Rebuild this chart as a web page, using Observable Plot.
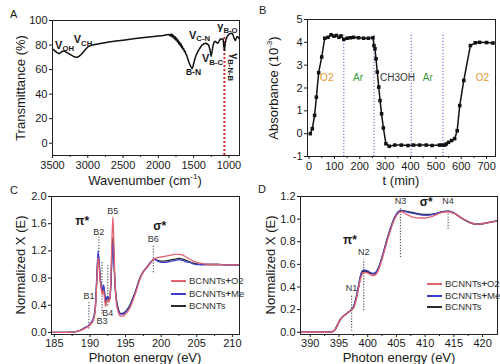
<!DOCTYPE html>
<html><head><meta charset="utf-8">
<script src="https://cdn.jsdelivr.net/npm/d3@7"></script>
<script src="https://cdn.jsdelivr.net/npm/@observablehq/plot@0.6"></script>
<style>
body{margin:0;background:#fff;}
#root{position:relative;width:500px;height:364px;overflow:hidden;font-family:"Liberation Sans",Arial,sans-serif;color:#1a1a1a}
.ttl{position:absolute;font-size:13px;white-space:nowrap;transform:translate(-50%,-50%)}
.ttl.rot{transform:translate(-50%,-50%) rotate(-90deg)}
.plab{position:absolute;font-size:11px}
.leg{position:absolute;font-size:9.5px;color:#333;white-space:nowrap}
.leg i{display:inline-block;width:15px;height:0;border-top:2px solid;vertical-align:middle;margin-right:3px}
</style></head>
<body><div id="root"></div>
<script>
// ---------- Panel A: FTIR ----------
const wnA = [3500,3470,3440,3410,3390,3360,3330,3300,3270,3240,3210,3180,3150,3120,3090,3060,3030,3000,2960,2900,2800,2700,2600,2500,2400,2300,2200,2100,2000,1930,1880,1850,1830,1820,1810,1800,1790,1780,1770,1760,1750,1740,1730,1720,1710,1700,1690,1680,1670,1660,1650,1640,1630,1620,1610,1600,1590,1575,1560,1545,1530,1520,1510,1495,1475,1455,1430,1405,1380,1355,1333,1310,1286,1268,1252,1238,1224,1208,1191,1175,1158,1140,1120,1100,1082,1072,1064,1056,1045,1025,1003,980,955,943,932,920,908,896,884,870,860,851];
const trA = [77,75.5,74,73,73.5,75,75,74,73,72,71,70.3,70,71,72.5,74.5,76.5,78.5,79.7,80.5,81.5,82.5,83.3,84,84.8,85.5,86.2,86.8,87.3,87.7,88.3,88.6,87.5,89,87,88.5,86,87.5,85,86.5,84,85.5,82.5,84,81,82.5,79.5,81,78,79,76.5,77,74.5,75,72.5,72,70,67.5,65,63,61.5,61,62.5,66,70,73,75.6,78,80,81,81.5,81,80,76,71,75,80,82.5,83,82,81.5,83,85,85,84.5,79,75.6,80,83.7,87,88.6,89.5,89.7,88.5,86.5,84.5,83.7,85.5,87,86.5,85.5,85];
const ticksA = [3500,3000,2500,2000,1500,1000];
const minorA = [3250,2750,2250,1750,1250];
const yTicksA = [0,20,40,60,80,100];
const redLineA = [{wn:1064, lo:-10, hi:88}];
const labelsA = [
  {wn:3330, v:80, main:"V", sub:"OH"},
  {wn:3068, v:84.5, main:"V", sub:"CH"},
  {wn:1417, v:88, main:"V", sub:"C-N"},
  {wn:1233, v:69, main:"V", sub:"B-C"},
  {wn:1021, v:95, main:"γ", sub:"B-O"}
];
const labelsARot = [{wn:922, v:62, main:"γ", sub:"B-N-B"}];
const labelBN = [{wn:1502, v:57.5, text:"B-N"}];

// ---------- Panel B: absorbance vs time ----------
const tB = [5,13,22,29,38,50,62,75,87,98,108,118,126,137,150,163,176,195,215,234,252,256,260,264,269,275,280,286,293,303,316,338,364,390,412,436,462,485,514,524,535,541,550,562,574,584,594,610,636,655,672,700,725];
const aB = [0,0.22,0.8,1.6,2.67,3.36,4.18,4.22,4.33,4.27,4.3,4.22,4.28,4.13,4.18,4.2,4.22,4.2,4.18,4.18,4.2,3.86,3.72,3.28,2.7,2.04,1.45,0.87,0.25,-0.44,-0.55,-0.5,-0.5,-0.52,-0.5,-0.5,-0.5,-0.52,-0.5,-0.5,-0.5,-0.45,-0.38,-0.3,-0.22,0.13,1.23,2.33,3.86,3.98,4.0,3.99,3.97];
const switchTimes = [137,256,403,528];
const gasLabels = [
  {t:70, v:2.44, text:"O2", color:"#e8962a"},
  {t:193, v:2.44, text:"Ar", color:"#3a9a3a"},
  {t:349, v:2.44, text:"CH3OH", color:"#333"},
  {t:468, v:2.44, text:"Ar", color:"#3a9a3a"},
  {t:683, v:2.44, text:"O2", color:"#e8962a"}
];
const ticksB = [0,100,200,300,400,500,600,700];
const minorB = [50,150,250,350,450,550,650];
const yTicksB = [-1,0,1,2,3,4,5];

// ---------- Panel C: B K-edge ----------
const eC = [184.6,186,187.5,188.3,188.8,189.3,189.8,190.2,190.5,190.75,190.95,191.15,191.3,191.45,191.6,191.75,191.9,192.05,192.2,192.35,192.5,192.65,192.8,192.95,193.1,193.22,193.35,193.5,193.7,194.0,194.3,194.6,195.0,195.5,196.0,196.5,197.0,197.5,198.0,198.5,199.0,199.5,200.0,200.5,201.0,201.5,202.0,202.5,203.0,203.5,204.0,204.5,205.0,205.5,206.0,207,208,209,210,211];
const pristineC = [0,0,0.005,0.02,0.04,0.07,0.1,0.14,0.2,0.35,0.75,1.15,1.0,0.78,0.66,0.6,0.68,0.58,0.44,0.5,0.52,0.48,0.5,0.75,1.2,1.4,1.15,0.75,0.5,0.34,0.28,0.28,0.31,0.38,0.5,0.64,0.8,0.9,0.96,1.03,1.08,1.06,1.05,1.05,1.06,1.07,1.08,1.09,1.08,1.06,1.04,1.02,1.01,1.0,1.0,1.0,1.0,0.995,0.995,0.995];
const o2C = [0,0,0.005,0.02,0.035,0.06,0.09,0.13,0.19,0.33,0.7,1.1,0.95,0.74,0.62,0.56,0.62,0.5,0.38,0.45,0.48,0.45,0.5,0.85,1.4,1.7,1.35,0.8,0.45,0.29,0.24,0.24,0.27,0.34,0.46,0.61,0.78,0.89,0.95,1.02,1.08,1.1,1.11,1.12,1.13,1.14,1.15,1.15,1.14,1.11,1.08,1.05,1.03,1.02,1.01,1.0,1.0,0.995,0.995,0.995];
const meC = [0,0,0.005,0.02,0.04,0.07,0.1,0.15,0.22,0.38,0.8,1.2,1.03,0.8,0.68,0.62,0.7,0.6,0.46,0.52,0.53,0.49,0.5,0.72,1.12,1.32,1.1,0.72,0.48,0.33,0.27,0.27,0.3,0.37,0.49,0.63,0.79,0.89,0.96,1.03,1.08,1.05,1.03,1.03,1.04,1.05,1.06,1.07,1.06,1.04,1.03,1.01,1.0,1.0,1.0,1.0,1.0,0.995,0.995,0.995];
const peaksC = [
  {label:"B1", e:189.85, lo:0.05, hi:0.44, ty:0.53},
  {label:"B2", e:191.25, lo:1.18, hi:1.4, ty:1.48},
  {label:"B3", e:191.7, lo:0.27, hi:1.03, ty:0.16},
  {label:"B4", e:192.5, lo:0.39, hi:0.98, ty:0.29},
  {label:"B5", e:193.2, lo:null, hi:null, ty:1.79},
  {label:"B6", e:198.9, lo:0.88, hi:1.27, ty:1.38}
];
const bandsC = [{e:188.9, v:1.63, text:"π*"},{e:199.8, v:1.57, text:"σ*"}];
const ticksC = [185,190,195,200,205,210];
const minorC = [187.5,192.5,197.5,202.5,207.5];
const yTicksC = [0,0.4,0.8,1.2,1.6,2.0];

// ---------- Panel D: N K-edge ----------
const eD = [388.3,390,392,393.5,394.0,394.4,394.8,395.2,395.7,396.2,396.7,397.2,397.6,398.0,398.4,398.8,399.2,399.6,400.1,400.6,401.0,401.5,402.0,402.5,403.0,403.5,404.0,404.5,405.0,405.5,406.0,406.5,407.0,407.5,408.0,409.0,410.0,411.0,412.0,413.0,414.0,415.0,416.0,417.0,418.0,419.0,420.0,421.0,422.6];
const pristineD = [0,0,0,0.002,0.01,0.03,0.07,0.11,0.14,0.16,0.18,0.2,0.23,0.3,0.4,0.5,0.54,0.54,0.53,0.52,0.515,0.53,0.58,0.66,0.75,0.84,0.92,0.99,1.04,1.07,1.075,1.07,1.065,1.06,1.055,1.045,1.04,1.04,1.05,1.065,1.07,1.055,1.02,0.99,0.965,0.955,0.96,0.97,0.985];
const meD = [0,0,0,0.002,0.01,0.03,0.07,0.11,0.14,0.16,0.18,0.2,0.235,0.31,0.41,0.51,0.55,0.55,0.54,0.525,0.52,0.535,0.585,0.665,0.755,0.845,0.925,0.995,1.045,1.07,1.075,1.07,1.06,1.055,1.05,1.04,1.035,1.04,1.05,1.065,1.07,1.055,1.02,0.99,0.965,0.955,0.96,0.97,0.985];
const o2D = [0,0,0,0.002,0.01,0.03,0.07,0.11,0.14,0.16,0.18,0.2,0.22,0.29,0.39,0.48,0.525,0.53,0.52,0.505,0.5,0.515,0.565,0.645,0.735,0.825,0.905,0.98,1.03,1.06,1.065,1.05,1.035,1.025,1.015,1.01,1.01,1.02,1.04,1.06,1.065,1.05,1.02,0.99,0.965,0.955,0.96,0.97,0.985];
const peaksD = [
  {label:"N1", e:397.2, lo:0.01, hi:0.33, ty:0.39},
  {label:"N2", e:399.3, lo:0.19, hi:0.64, ty:0.71},
  {label:"N3", e:405.7, lo:0.66, hi:1.1, ty:1.16},
  {label:"N4", e:414.0, lo:0.91, hi:1.07, ty:1.16}
];
const bandsD = [{e:396.9, v:0.81, text:"π*"},{e:410.2, v:1.15, text:"σ*"}];
const ticksD = [390,395,400,405,410,415,420];
const minorD = [392.5,397.5,402.5,407.5,412.5,417.5];
const yTicksD = [0,0.2,0.4,0.6,0.8,1.0,1.2];

const seriesNames = ["BCNNTs+O2","BCNNTs+Me","BCNNTs"];
const seriesColors = ["#e2636e","#3f3fcc","#2a2a2a"];

// ---------- helpers ----------
const root = document.getElementById("root");
const font = "'Liberation Sans', Arial, sans-serif";
const common = {width:250, height:182, style:{fontFamily:font, fontSize:"11px", color:"#1a1a1a", background:"transparent", overflow:"visible"}};
const f1 = d3.format(".1f");
const plain = d => String(d);
function put(node, left, top){ node.style.position="absolute"; node.style.left=left+"px"; node.style.top=top+"px"; root.appendChild(node); }
function html(cls, text, x, y){ const d=document.createElement("div"); d.className=cls; d.innerHTML=text; d.style.left=x+"px"; d.style.top=y+"px"; root.appendChild(d); return d; }
function subRender(index, scales, values, dims, ctx, next){
  const g = next(index, scales, values, dims, ctx);
  d3.select(g).selectAll("text").each(function(){
    const parts = this.textContent.split("|");
    this.textContent = "";
    d3.select(this).append("tspan").text(parts[0]);
    d3.select(this).append("tspan").attr("font-size","0.7em").attr("dy","0.35em").text(parts[1]);
  });
  return g;
}
function tidy(xs, cols){
  const rows=[];
  cols.forEach((ys,k)=>xs.forEach((x,i)=>rows.push({x, y:ys[i], s:seriesNames[k]})));
  return rows;
}

// ---------- A ----------
const ftir = wnA.map((w,i)=>({wn:w, t:trA[i]}));
const pA = Plot.plot({...common, marginLeft:52, marginRight:11, marginTop:20, marginBottom:27,
  x:{domain:[3500,850]}, y:{domain:[-10,100]},
  marks:[
    Plot.axisX({ticks:ticksA, tickSize:3, tickPadding:3, label:null, tickFormat:plain}),
    Plot.axisX({ticks:minorA, tickSize:2, tickFormat:()=>"", label:null}),
    Plot.axisY({ticks:yTicksA, tickSize:3, tickPadding:2, label:null, tickFormat:plain}),
    Plot.ruleX(redLineA, {x:"wn", y1:"lo", y2:"hi", stroke:"#d8262e", strokeWidth:2, strokeDasharray:"2,2"}),
    Plot.line(ftir, {x:"wn", y:"t", stroke:"#111", strokeWidth:1.5}),
    Plot.text(labelsA, {x:"wn", y:"v", text:d=>d.main+"|"+d.sub, render:subRender, fontSize:11, fontWeight:"bold"}),
    Plot.text(labelsARot, {x:"wn", y:"v", text:d=>d.main+"|"+d.sub, render:subRender, fontSize:11, fontWeight:"bold", rotate:90}),
    Plot.text(labelBN, {x:"wn", y:"v", text:"text", fontSize:8.5, fontWeight:"bold"}),
    Plot.frame({stroke:"#222"})
  ]});
put(pA, 0, 0);

// ---------- B ----------
const absB = tB.map((t,i)=>({t, a:aB[i]}));
const pB = Plot.plot({...common, marginLeft:57, marginRight:5, marginTop:19, marginBottom:26,
  x:{domain:[-6,735]}, y:{domain:[-1,5]},
  marks:[
    Plot.axisX({ticks:ticksB, tickSize:3, tickPadding:3, label:null, tickFormat:plain}),
    Plot.axisX({ticks:minorB, tickSize:2, tickFormat:()=>"", label:null}),
    Plot.axisY({ticks:yTicksB, tickSize:3, tickPadding:2, label:null, tickFormat:plain}),
    Plot.ruleX(switchTimes, {y1:-1, y2:4.35, stroke:"#8579d6", strokeWidth:1.2, strokeDasharray:"1.2,1.8"}),
    Plot.line(absB, {x:"t", y:"a", stroke:"#111", strokeWidth:1.5}),
    Plot.dot(absB, {x:"t", y:"a", symbol:"square", r:2, fill:"#111", stroke:null}),
    Plot.text(gasLabels, {x:"t", y:"v", text:"text", fill:"color", fontSize:10}),
    Plot.frame({stroke:"#222"})
  ]});
put(pB, 250, 0);

// ---------- C ----------
const xasC = tidy(eC, [o2C, meC, pristineC]);
const pC = Plot.plot({...common, marginLeft:51, marginRight:11, marginTop:14, marginBottom:30,
  x:{domain:[184.6,211]}, y:{domain:[-0.03,2.0]},
  color:{domain:seriesNames, range:seriesColors},
  marks:[
    Plot.axisX({ticks:ticksC, tickSize:3, tickPadding:2, label:null, tickFormat:plain}),
    Plot.axisX({ticks:minorC, tickSize:2, tickFormat:()=>"", label:null}),
    Plot.axisY({ticks:yTicksC, tickSize:3, tickPadding:2, label:null, tickFormat:f1}),
    Plot.ruleX(peaksC.filter(d=>d.lo!=null), {x:"e", y1:"lo", y2:"hi", stroke:"#555", strokeWidth:1.2, strokeDasharray:"1.2,1.6"}),
    Plot.line(xasC.filter(d=>d.s==="BCNNTs"), {x:"x", y:"y", stroke:"s", strokeWidth:1.3, curve:"monotone-x"}),
    Plot.line(xasC.filter(d=>d.s==="BCNNTs+Me"), {x:"x", y:"y", stroke:"s", strokeWidth:1.3, curve:"monotone-x"}),
    Plot.line(xasC.filter(d=>d.s==="BCNNTs+O2"), {x:"x", y:"y", stroke:"s", strokeWidth:1.3, curve:"monotone-x"}),
    Plot.text(peaksC, {x:"e", y:"ty", text:"label", fontSize:9, fill:"#333"}),
    Plot.text(bandsC, {x:"e", y:"v", text:"text", fontSize:12, fontWeight:"bold"}),
    Plot.frame({stroke:"#222"})
  ]});
put(pC, 0, 182);

// ---------- D ----------
const xasD = tidy(eD, [o2D, meD, pristineD]);
const pD = Plot.plot({...common, marginLeft:50, marginRight:3, marginTop:14, marginBottom:30,
  x:{domain:[388.3,422.6]}, y:{domain:[-0.02,1.2]},
  color:{domain:seriesNames, range:seriesColors},
  marks:[
    Plot.axisX({ticks:ticksD, tickSize:3, tickPadding:2, label:null, tickFormat:plain}),
    Plot.axisX({ticks:minorD, tickSize:2, tickFormat:()=>"", label:null}),
    Plot.axisY({ticks:yTicksD, tickSize:3, tickPadding:2, label:null, tickFormat:f1}),
    Plot.ruleX(peaksD, {x:"e", y1:"lo", y2:"hi", stroke:"#555", strokeWidth:1.2, strokeDasharray:"1.2,1.6"}),
    Plot.line(xasD.filter(d=>d.s==="BCNNTs"), {x:"x", y:"y", stroke:"s", strokeWidth:1.6, curve:"monotone-x"}),
    Plot.line(xasD.filter(d=>d.s==="BCNNTs+Me"), {x:"x", y:"y", stroke:"s", strokeWidth:1.3, curve:"monotone-x"}),
    Plot.line(xasD.filter(d=>d.s==="BCNNTs+O2"), {x:"x", y:"y", stroke:"s", strokeWidth:1.3, curve:"monotone-x"}),
    Plot.text(peaksD, {x:"e", y:"ty", text:"label", fontSize:9, fill:"#333"}),
    Plot.text(bandsD, {x:"e", y:"v", text:"text", fontSize:12, fontWeight:"bold"}),
    Plot.frame({stroke:"#222"})
  ]});
put(pD, 250, 182);

// ---------- titles, panel letters, legends ----------
html("ttl rot", "Transmittance (%)", 20, 88);
html("ttl", "Wavenumber (cm<sup style='font-size:8px'>-1</sup>)", 145, 180);
html("ttl rot", "Absorbance (10<sup style='font-size:8px'>-3</sup>)", 273, 88);
html("ttl", "t (min)", 401, 180);
html("ttl rot", "Normalized X (E)", 20, 265);
html("ttl", "Photon energy (eV)", 145, 357);
html("ttl rot", "Normalized X (E)", 270, 265);
html("ttl", "Photon energy (eV)", 399, 357);
html("plab", "A", 10, 8);
html("plab", "B", 259, 4);
html("plab", "C", 10, 184);
html("plab", "D", 258, 183);
function legend(x, y, gap){
  seriesNames.forEach((n,i)=>{
    const lbl = n.replace("+O2","<b>+</b>O2").replace("+Me","<b>+</b>Me");
    html("leg", `<i style="border-color:${seriesColors[i]}"></i>${lbl}`, x, y + i*gap);
  });
}
legend(171, 275, 12.5);
legend(427, 278, 11.5);
</script></body></html>
